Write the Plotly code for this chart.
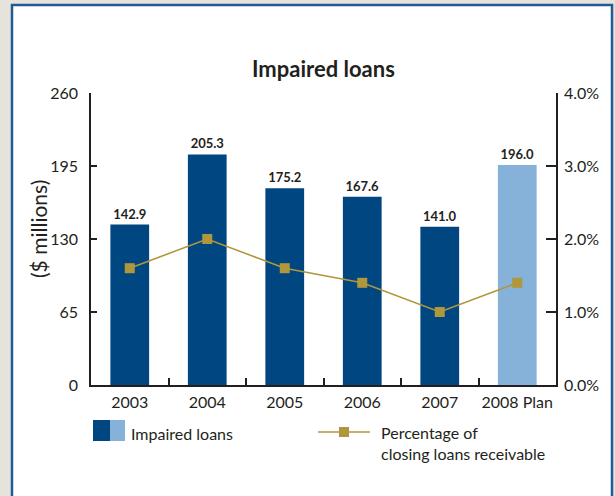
import plotly.graph_objects as go

# Impaired loans by year ($ millions) and share of closing loans receivable (%)
years = ["2003", "2004", "2005", "2006", "2007", "2008 Plan"]
impaired = [142.9, 205.3, 175.2, 167.6, 141.0, 196.0]
pct_receivable = [1.6, 2.0, 1.6, 1.4, 1.0, 1.4]
left_ticks = [0, 65, 130, 195, 260]
right_ticks = [0.0, 1.0, 2.0, 3.0, 4.0]
right_tick_text = ["0.0%", "1.0%", "2.0%", "3.0%", "4.0%"]

DARK = "#004680"
LIGHT = "#86b1d8"
GOLD = "#b0973c"
INK = "#231f20"
FONT = "Lato"

W, H = 615, 496
L, R, T, B = 91, 59, 93, 111
PW, PH = W - L - R, H - T - B


def px(x):
    return (x - L) / PW


def py(y):
    return (H - B - y) / PH


bar_colors = [DARK] * (len(years) - 1) + [LIGHT]

fig = go.Figure()
fig.add_trace(go.Bar(
    x=years, y=impaired, marker=dict(color=bar_colors, line_width=0),
    texttemplate="<b>%{y:.1f}</b>", textposition="outside",
    textfont=dict(size=13, color=INK, family=FONT), cliponaxis=False,
    showlegend=False, hoverinfo="skip",
))
fig.add_trace(go.Scatter(
    x=years, y=pct_receivable, yaxis="y2", mode="lines+markers",
    line=dict(color=GOLD, width=1.6),
    marker=dict(symbol="square", size=10, color=GOLD),
    showlegend=False, hoverinfo="skip",
))

shapes = [
    # white panel with blue frame
    dict(type="rect", xref="paper", yref="paper", layer="below",
         x0=px(12), x1=px(612), y0=py(520), y1=py(5),
         fillcolor="white", line=dict(color="#1f5c94", width=2.5)),
    # legend swatches
    dict(type="rect", xref="paper", yref="paper", x0=px(93), x1=px(110),
         y0=py(441), y1=py(420), fillcolor=DARK, line_width=0),
    dict(type="rect", xref="paper", yref="paper", x0=px(110), x1=px(125),
         y0=py(441), y1=py(420), fillcolor=LIGHT, line_width=0),
    dict(type="line", xref="paper", yref="paper", x0=px(318), x1=px(370),
         y0=py(432), y1=py(432), line=dict(color=GOLD, width=1.6)),
    dict(type="rect", xref="paper", yref="paper", x0=px(339), x1=px(349),
         y0=py(437), y1=py(427), fillcolor=GOLD, line_width=0),
]


def note(text, x, y, size, **kw):
    return dict(text=text, xref="paper", yref="paper", x=px(x), y=py(y),
                showarrow=False, yanchor="middle",
                font=dict(size=size, color=INK, family=FONT), **kw)


annotations = [
    note("<b>Impaired loans</b>", 323, 69, 22, xanchor="center"),
    note("($ millions)", 38, 229, 21, xanchor="center", textangle=-90),
    note("Impaired loans", 129, 433, 16, xanchor="left"),
    note("Percentage of<br>closing loans receivable", 379, 443, 16,
         xanchor="left", align="left"),
]

axis_common = dict(showgrid=False, zeroline=False, showline=True,
                   linecolor=INK, linewidth=1.5, ticks="inside",
                   tickcolor=INK, tickwidth=1.5,
                   tickfont=dict(size=16, color=INK, family=FONT))

fig.update_layout(
    width=W, height=H, margin=dict(l=L, r=R, t=T, b=B),
    paper_bgcolor="#e6e2dc", plot_bgcolor="white",
    bargap=0.5, shapes=shapes, annotations=annotations,
    xaxis=dict(**axis_common, ticklen=7, tickson="boundaries", tickangle=0,
               range=[-0.5, len(years) - 0.5], ticklabelstandoff=2),
    yaxis=dict(**axis_common, ticklen=6, range=[0, 260],
               tickvals=left_ticks, ticklabelstandoff=8),
    yaxis2=dict(**axis_common, ticklen=10, overlaying="y", side="right",
                range=[0, 4], tickvals=right_ticks, ticktext=right_tick_text,
                ticklabelstandoff=3),
)

fig.write_html("out.html")
